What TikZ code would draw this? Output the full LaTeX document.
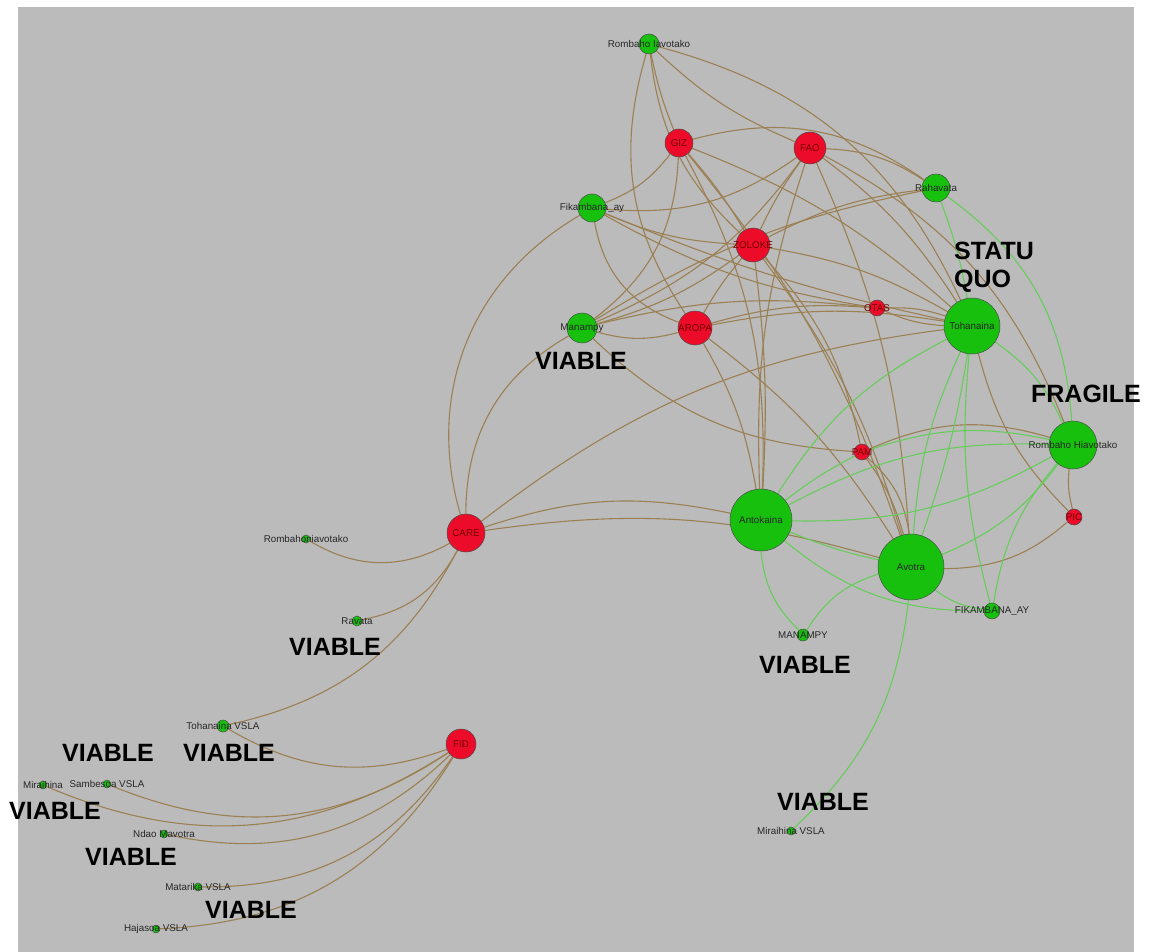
\documentclass[tikz,border=0pt]{standalone}
\usepackage{fontspec}
\setmainfont{Liberation Sans}
\usetikzlibrary{positioning}
\definecolor{bggray}{RGB}{187,187,187}
\definecolor{nodegreen}{RGB}{22,192,12}
\definecolor{nodered}{RGB}{236,12,42}
\definecolor{edgebrown}{RGB}{155,128,84}
\definecolor{edgegreen}{RGB}{104,204,92}
\pgfdeclarelayer{back}
\pgfdeclarelayer{links}
\pgfsetlayers{back,links,main}

\begin{document}
\begin{tikzpicture}[
  x=1pt, y=-1pt,
  font=\fontsize{9.8}{11}\selectfont,
  gnode/.style={circle, draw=black!70, line width=.5pt, fill=nodegreen, inner sep=0pt,
                label={[text=black!85, inner sep=0pt]center:#1}},
  rnode/.style={circle, draw=black!70, line width=.5pt, fill=nodered, inner sep=0pt,
                label={[text=red!45!black, inner sep=0pt]center:#1}},
  tag/.style={font=\fontsize{25}{28}\selectfont\bfseries, align=left, inner sep=0pt},
  brn/.style={draw=edgebrown, line width=1.1pt},
  grn/.style={draw=edgegreen, line width=1.1pt}
]
  \useasboundingbox (0,0) rectangle (1149,952);
  \begin{pgfonlayer}{back}
    \fill[bggray] (18,7) rectangle (1134,952);
  \end{pgfonlayer}

  % partner organisations
  \node[rnode=GIZ, minimum size=28pt] (giz) at (679,143) {};
  \node[rnode=FAO, minimum size=32pt] (fao) at (810,148) {};
  \node[rnode=ZOLOKE, minimum size=34pt] (zol) at (753,245) {};
  \node[rnode=AROPA, minimum size=34pt] (aro) at (695,328) {};
  \node[rnode=OTAS, minimum size=16pt] (ota) at (877,308) {};
  \node[rnode=PAM, minimum size=16pt] (pam) at (862,452) {};
  \node[rnode=PIC, minimum size=16pt] (pic) at (1074,517) {};
  \node[rnode=CARE, minimum size=38pt] (care) at (466,533) {};
  \node[rnode=FID, minimum size=30pt] (fid) at (461,744) {};

  % associations
  \node[gnode=Rombaho Iavotako, minimum size=20pt] (ri) at (649,44) {};
  \node[gnode=Fikambana\_ay, minimum size=28pt] (fik) at (592,208) {};
  \node[gnode=Rahavata, minimum size=28pt] (rah) at (936,188) {};
  \node[gnode=Manampy, minimum size=30pt] (man) at (582,328) {};
  \node[gnode=Tohanaina, minimum size=56pt] (toh) at (972,326) {};
  \node[gnode=Rombaho Hiavotako, minimum size=48pt] (rhi) at (1073,445) {};
  \node[gnode=Antokaina, minimum size=62pt] (ant) at (761,520) {};
  \node[gnode=Avotra, minimum size=66pt] (avo) at (911,567) {};
  \node[gnode=FIKAMBANA\_AY, minimum size=16pt] (fka) at (992,611) {};
  \node[gnode=MANAMPY, minimum size=12pt] (mny) at (803,635) {};
  \node[gnode=Miraihina VSLA, minimum size=8pt] (mvs) at (791,831) {};
  \node[gnode=Rombahoniavotako, minimum size=8pt] (rhn) at (306,539) {};
  \node[gnode=Ravata, minimum size=10pt] (rav) at (357,621) {};
  \node[gnode=Tohanaina VSLA, minimum size=12pt] (tvs) at (223,726) {};
  \node[gnode=Miraihina, minimum size=8pt] (mir) at (43,785) {};
  \node[gnode=Sambesoa VSLA, minimum size=8pt] (sam) at (107,784) {};
  \node[gnode=Ndao Mavotra, minimum size=8pt] (nda) at (164,834) {};
  \node[gnode=Matarika VSLA, minimum size=8pt] (mat) at (198,887) {};
  \node[gnode=Hajasoa VSLA, minimum size=8pt] (haj) at (156,929) {};

  \begin{pgfonlayer}{links}
    \draw[brn] (ri) to[bend right=5] (giz);
    \draw[brn] (ri) to[bend right=20] (zol);
    \draw[brn] (ri) to[bend right=25] (aro);
    \draw[brn] (ri) to[bend right=10] (fao);
    \draw[brn] (ri) to[bend left=25] (toh);
    \draw[brn] (giz) to[bend left=15] (fik);
    \draw[brn] (giz) to[bend left=25] (man);
    \draw[brn] (giz) to[bend left=5] (zol);
    \draw[brn] (giz) to[bend left=25] (rah);
    \draw[brn] (giz) to[bend left=10] (toh);
    \draw[brn] (giz) to[bend left=15] (ant);
    \draw[brn] (giz) to[bend left=10] (avo);
    \draw[brn] (fao) to[bend left=20] (fik);
    \draw[brn] (fao) to[bend right=5] (zol);
    \draw[brn] (fao) to[bend left=15] (rah);
    \draw[brn] (fao) to[bend left=10] (toh);
    \draw[brn] (fao) to[bend left=20] (rhi);
    \draw[brn] (fao) to[bend left=10] (avo);
    \draw[brn] (fao) to[bend right=10] (ant);
    \draw[brn] (fao) to[bend left=15] (man);
    \draw[brn] (zol) to[bend left=10] (fik);
    \draw[brn] (zol) to[bend left=10] (man);
    \draw[brn] (zol) to[bend right=5] (aro);
    \draw[brn] (zol) to[bend left=10] (rah);
    \draw[brn] (zol) to[bend left=10] (toh);
    \draw[brn] (zol) to[bend left=5] (ant);
    \draw[brn] (zol) to[bend left=10] (avo);
    \draw[brn] (zol) to[bend left=15] (pam);
    \draw[brn] (fik) to[bend right=30] (aro);
    \draw[brn] (fik) to[bend right=5] (toh);
    \draw[brn] (fik) to[bend right=10] (ota);
    \draw[brn] (man) to[bend right=15] (aro);
    \draw[brn] (man) to[bend left=10] (ota);
    \draw[brn] (man) to[bend left=10] (rah);
    \draw[brn] (man) to[bend right=20] (pam);
    \draw[brn] (aro) to[bend left=10] (ota);
    \draw[brn] (aro) to[bend left=10] (toh);
    \draw[brn] (aro) to[bend left=10] (ant);
    \draw[brn] (aro) to[bend left=10] (avo);
    \draw[brn] (ota) to[bend left=10] (toh);
    \draw[brn] (ota) to[bend right=10] (toh);
    \draw[brn] (pam) to[bend left=20] (rhi);
    \draw[brn] (pam) to[bend left=10] (avo);
    \draw[brn] (pam) to[bend left=20] (avo);
    \draw[brn] (toh) to[bend right=15] (pic);
    \draw[brn] (rhi) to[bend right=10] (pic);
    \draw[brn] (avo) to[bend right=20] (pic);
    \draw[brn] (care) to[bend left=38] (fik);
    \draw[brn] (care) to[bend left=30] (man);
    \draw[brn] (care) to[bend left=15] (toh);
    \draw[brn] (care) to[bend left=15] (ant);
    \draw[brn] (care) to[bend left=12] (avo);
    \draw[brn] (care) to[bend left=30] (rhn);
    \draw[brn] (care) to[bend left=25] (rav);
    \draw[brn] (care) to[bend left=25] (tvs);
    \draw[brn] (fid) to[bend left=25] (tvs);
    \draw[brn] (fid) to[bend left=28] (mir);
    \draw[brn] (fid) to[bend left=28] (sam);
    \draw[brn] (fid) to[bend left=28] (nda);
    \draw[brn] (fid) to[bend left=28] (mat);
    \draw[brn] (fid) to[bend left=28] (haj);

    \draw[grn] (rah) to[bend left=5] (toh);
    \draw[grn] (rah) to[bend left=25] (rhi);
    \draw[grn] (toh) to[bend left=15] (rhi);
    \draw[grn] (toh) to[bend right=15] (ant);
    \draw[grn] (toh) to[bend right=10] (avo);
    \draw[grn] (toh) to[bend left=5] (avo);
    \draw[grn] (toh) to[bend right=10] (fka);
    \draw[grn] (ant) to[bend left=15] (rhi);
    \draw[grn] (ant) to[bend right=15] (rhi);
    \draw[grn] (ant) to[bend left=5] (pam);
    \draw[grn] (ant) to[bend right=5] (avo);
    \draw[grn] (ant) to[bend right=20] (mny);
    \draw[grn] (ant) to[bend right=20] (fka);
    \draw[grn] (avo) to[bend right=15] (rhi);
    \draw[grn] (avo) to[bend right=20] (mny);
    \draw[grn] (avo) to[bend right=15] (fka);
    \draw[grn] (avo) to[bend left=20] (mvs);
    \draw[grn] (rhi) to[bend right=15] (fka);
    \draw[grn] (pam) to[bend left=15] (rhi);
  \end{pgfonlayer}

  \node[tag] (statu) at (994,267) {STATU\\QUO};
  \node[tag] (fragile) at (1086,394) {FRAGILE};
  \node[tag] (via1) at (581,361) {VIABLE};
  \node[tag] (via2) at (335,647) {VIABLE};
  \node[tag] (via3) at (805,665) {VIABLE};
  \node[tag] (via4) at (823,802) {VIABLE};
  \node[tag] (via5) at (108,753) {VIABLE};
  \node[tag] (via6) at (229,753) {VIABLE};
  \node[tag] (via7) at (55,811) {VIABLE};
  \node[tag] (via8) at (131,857) {VIABLE};
  \node[tag] (via9) at (251,910) {VIABLE};
\end{tikzpicture}
\end{document}
